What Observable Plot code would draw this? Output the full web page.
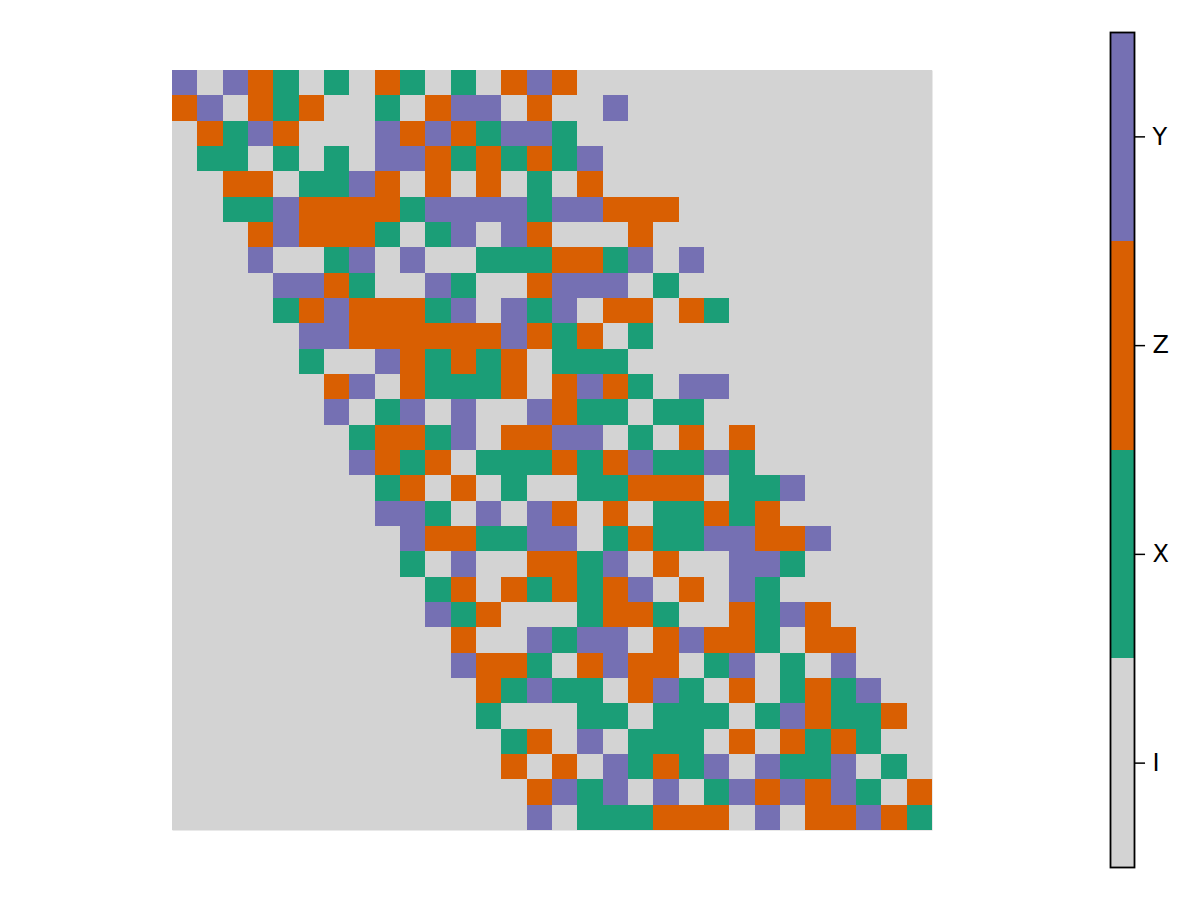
<!DOCTYPE html>
<html>
<head>
<meta charset="utf-8">
<script src="https://cdn.jsdelivr.net/npm/d3@7"></script>
<script src="https://cdn.jsdelivr.net/npm/@observablehq/plot@0.6"></script>
<style>
  body { margin: 0; background: #fff; }
  #wrap { position: relative; width: 1200px; height: 900px; font-family: "DejaVu Sans", sans-serif; }
  #wrap > svg, #wrap > figure { position: absolute; left: 0; top: 0; margin: 0; }
</style>
</head>
<body>
<div id="wrap"></div>
<script>
// Categories and colours (legend order bottom->top: I, X, Z, Y)
const categories = ["I", "X", "Z", "Y"];
const colors = ["#d3d3d3", "#1b9e77", "#d95f02", "#7570b3"];
const legendOrder = ["Y", "Z", "X", "I"];

// Grid rows (top to bottom); "." = I
const rows = [
  "Y.YZX.X.ZX" + ".X.ZYZ...." + "..........",
  "ZY.ZXZ..X." + "ZYY.Z..Y.." + "..........",
  ".ZXYZ...YZ" + "YZXYYX...." + "..........",
  ".XX.X.X.YY" + "ZXZXZXY..." + "..........",
  "..ZZ.XXYZ." + "Z.Z.X.Z..." + "..........",
  "..XXYZZZZX" + "YYYYXYYZZZ" + "..........",
  "...ZYZZZX." + "XY.YZ...Z." + "..........",
  "...Y..XY.Y" + "..XXXZZXY." + "Y.........",
  "....YYZX.." + "YX..ZYYY.X" + "..........",
  "....XZYZZZ" + "XY.YXY.ZZ." + "ZX........",
  ".....YYZZZ" + "ZZZYZXZ.X." + "..........",
  ".....X..YZ" + "XZXZ.XXX.." + "..........",
  "......ZY.Z" + "XXXZ.ZYZX." + "YY........",
  "......Y.XY" + ".Y..YZXX.X" + "X.........",
  ".......XZZ" + "XY.ZZYY.X." + "Z.Z.......",
  ".......YZX" + "Z.XXXZXZYX" + "XYX.......",
  "........XZ" + ".Z.X..XXZZ" + "Z.XXY.....",
  "........YY" + "X.Y.YZ.Z.X" + "XZXZ......",
  ".........Y" + "ZZXXYY.XZX" + "XYYZZY....",
  ".........X" + ".Y..ZZXY.Z" + "..YYX.....",
  ".........." + "XZ.ZXZXZY." + "Z.YX......",
  ".........." + "YXZ...XZZX" + "..ZXYZ....",
  ".........." + ".Z..YXYY.Z" + "YZZX.ZZ...",
  ".........." + ".YZZX.ZYZZ" + ".XY.X.Y...",
  ".........." + "..ZXYXX.ZY" + "X.Z.XZXY..",
  ".........." + "..X...XX.X" + "XX.XYZXXZ.",
  ".........." + "...XZ.Y.XX" + "X.Z.ZXZX..",
  ".........." + "...Z.Z.YXZ" + "XY.YXXY.X.",
  ".........." + "....ZYXY.Y" + ".XYZYZYX.Z",
  ".........." + "....Y.XXXZ" + "ZZ.Y.ZZYZX"
];

const nCols = rows[0].length;
const cells = [];
rows.forEach((r, i) => {
  for (let j = 0; j < r.length; ++j) {
    const c = r[j] === "." ? "I" : r[j];
    cells.push({row: i, col: j, state: c});
  }
});

const wrap = document.getElementById("wrap");

const main = Plot.plot({
  width: 1200,
  height: 900,
  marginLeft: 172,
  marginRight: 268,
  marginTop: 70,
  marginBottom: 70,
  style: {background: "transparent"},
  x: {type: "band", domain: d3.range(nCols), padding: 0, round: false, axis: null},
  y: {type: "band", domain: d3.range(rows.length), padding: 0, round: false, axis: null},
  color: {type: "ordinal", domain: categories, range: colors},
  marks: [
    Plot.frame({fill: colors[0]}),
    Plot.cell(cells, {x: "col", y: "row", fill: "state", inset: 0, shapeRendering: "crispEdges"})
  ]
});
wrap.appendChild(main);

const legendData = legendOrder.map(k => ({k}));
const bar = Plot.plot({
  width: 1200,
  height: 900,
  marginLeft: 1110,
  marginRight: 66,
  marginTop: 32,
  marginBottom: 33,
  style: {background: "transparent"},
  x: {type: "linear", domain: [0, 1], axis: null},
  y: {type: "band", domain: legendOrder, padding: 0, round: false, axis: null},
  color: {type: "ordinal", domain: categories, range: colors},
  marks: [
    Plot.cell(legendData, {y: "k", fill: "k", inset: 0, shapeRendering: "crispEdges"}),
    Plot.frame({stroke: "black", strokeWidth: 1.8}),
    Plot.ruleY(legendData, {y: "k", x1: 1, x2: 1.46, stroke: "black", strokeWidth: 1.5}),
    Plot.text(legendData, {y: "k", text: "k", frameAnchor: "right", dx: 18, textAnchor: "start", fontSize: 24, fontFamily: "DejaVu Sans", fill: "black"})
  ]
});
wrap.appendChild(bar);
</script>
</body>
</html>
